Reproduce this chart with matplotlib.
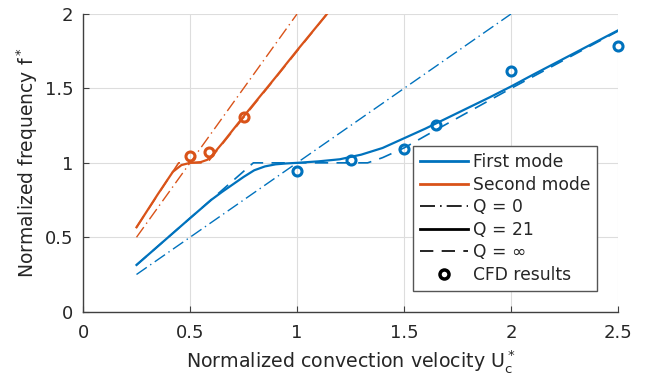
import numpy as np
import matplotlib
matplotlib.use("Agg")
import matplotlib.pyplot as plt
from matplotlib.lines import Line2D

# colours (MATLAB defaults)
blue = '#0072BD'
orange = '#D95319'

# Q = 0 (straight lines)
u_q0_first = [0.25, 2.0]
f_q0_first = [0.25, 2.0]
u_q0_second = [0.25, 1.0]
f_q0_second = [0.5, 2.0]

# Q = 21
u_q21_first = [0.25, 0.5, 0.6, 0.65, 0.7, 0.75, 0.8, 0.85, 0.9, 0.95, 1.0, 1.1, 1.2,
               1.3, 1.4, 1.5, 1.6, 1.7, 1.8, 1.9, 2.0, 2.1, 2.2, 2.3, 2.4, 2.5]
f_q21_first = [0.314, 0.628, 0.752, 0.805, 0.855, 0.905, 0.95, 0.976, 0.99, 0.996, 1.0, 1.01, 1.024,
               1.055, 1.10, 1.165, 1.23, 1.30, 1.37, 1.44, 1.513, 1.59, 1.665, 1.74, 1.815, 1.89]
u_q21_second = [0.25, 0.35, 0.42, 0.46, 0.5, 0.55, 0.58, 0.6, 0.65, 0.75, 0.9, 1.0, 1.14]
f_q21_second = [0.567, 0.79, 0.94, 0.985, 1.0, 1.005, 1.02, 1.045, 1.13, 1.311, 1.575, 1.755, 2.0]

# Q = infinity
u_qinf_first = [0.25, 0.796, 1.33, 1.4, 1.5, 1.65, 2.0, 2.5]
f_qinf_first = [0.314, 1.0, 1.0, 1.035, 1.10, 1.222, 1.50, 1.885]
u_qinf_second = [0.25, 0.447, 0.58, 1.14]
f_qinf_second = [0.567, 1.0, 1.0, 2.0]

# CFD results
u_cfd_first = [1.0, 1.25, 1.5, 1.65, 2.0, 2.5]
f_cfd_first = [0.948, 1.02, 1.092, 1.255, 1.614, 1.787]
u_cfd_second = [0.5, 0.59, 0.75]
f_cfd_second = [1.045, 1.075, 1.31]

xticks = [0, 0.5, 1, 1.5, 2, 2.5]
xticklabels = ['0', '0.5', '1', '1.5', '2', '2.5']
yticks = [0, 0.5, 1, 1.5, 2]
yticklabels = ['0', '0.5', '1', '1.5', '2']

txt = '#262626'
plt.rcParams['font.family'] = 'DejaVu Sans'

fig = plt.figure(figsize=(6.45, 3.8), dpi=100)
ax = fig.add_axes([83/645, 1 - 311.7/380, 535/645, 297.7/380])

dashdot = (9, 3, 1.0, 3)
dashed = (8, 5)

ax.plot(u_q0_first, f_q0_first, color=blue, lw=1.0, dashes=dashdot)
ax.plot(u_q0_second, f_q0_second, color=orange, lw=1.0, dashes=dashdot)
ax.plot(u_qinf_first, f_qinf_first, color=blue, lw=1.2, dashes=dashed)
ax.plot(u_qinf_second, f_qinf_second, color=orange, lw=1.2, dashes=dashed)
ax.plot(u_q21_first, f_q21_first, color=blue, lw=1.6)
ax.plot(u_q21_second, f_q21_second, color=orange, lw=1.6)
ax.plot(u_cfd_first, f_cfd_first, 'o', color=blue, mfc='none', ms=6.5, mew=2.2, clip_on=False)
ax.plot(u_cfd_second, f_cfd_second, 'o', color=orange, mfc='none', ms=6.5, mew=2.2, clip_on=False)

ax.set_xlim(0, 2.5)
ax.set_ylim(0, 2)
ax.set_xticks(xticks)
ax.set_xticklabels(xticklabels)
ax.set_yticks(yticks)
ax.set_yticklabels(yticklabels)
ax.tick_params(direction='in', length=4, width=0.8, colors='#404040', labelcolor=txt, labelsize=13)
ax.tick_params(axis='x', pad=9)
ax.tick_params(axis='y', pad=7)
ax.grid(True, color='#dddddd', lw=0.8)
ax.set_axisbelow(True)
for s in ['top', 'right']:
    ax.spines[s].set_visible(False)
for s in ['left', 'bottom']:
    ax.spines[s].set_color('#404040')
    ax.spines[s].set_linewidth(1.0)

ax.set_xlabel(r'Normalized convection velocity U$_\mathrm{c}^*$', fontsize=13.7, color=txt, labelpad=4)
ax.set_ylabel(r'Normalized frequency f$^*$', fontsize=13.5, color=txt, labelpad=3)

handles = [
    Line2D([], [], color=blue, lw=2),
    Line2D([], [], color=orange, lw=2),
    Line2D([], [], color='black', lw=1.2, dashes=dashdot),
    Line2D([], [], color='black', lw=2),
    Line2D([], [], color='black', lw=1.2, dashes=dashed),
    Line2D([], [], color='black', marker='o', ls='none', mfc='none', ms=6.5, mew=2.5),
]
labels = ['First mode', 'Second mode', 'Q = 0', 'Q = 21', 'Q = ∞', 'CFD results']
leg = ax.legend(handles, labels, loc='lower right', bbox_to_anchor=(0.961, 0.07),
                fontsize=12.3, fancybox=False, framealpha=1, edgecolor='#555555',
                handlelength=2.8, labelspacing=0.27, borderpad=0.4, handletextpad=0.3,
                borderaxespad=0)
leg.get_frame().set_linewidth(1.0)
for t in leg.get_texts():
    t.set_color(txt)

fig.savefig('out.png', dpi=100)
